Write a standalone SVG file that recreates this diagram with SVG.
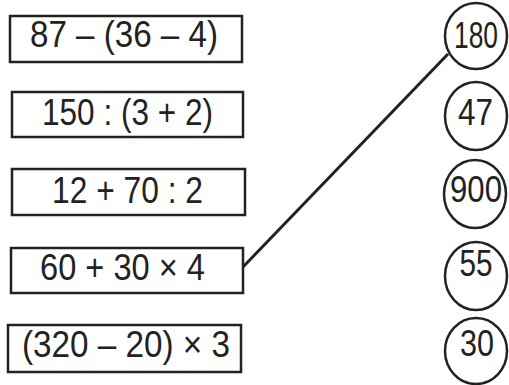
<svg xmlns="http://www.w3.org/2000/svg" width="509" height="385" viewBox="0 0 509 385">
<style>
.box{fill:#fff;stroke:#222;stroke-width:2.5}
.circ{fill:#fff;stroke:#222;stroke-width:2.5}
.t{font-family:"Liberation Sans",Arial,sans-serif;font-size:36px;fill:#222;text-anchor:middle}
.c{font-family:"Liberation Sans",Arial,sans-serif;font-size:36px;fill:#222;text-anchor:middle}
.line{stroke:#222;stroke-width:3;fill:none}
</style>
<rect width="509" height="385" fill="#fff"/>
<g id="connectors">
<line class="line" x1="243" y1="267" x2="448" y2="54"/>
</g>
<g id="e1"><rect class="box" x="10" y="16" width="232" height="46"/><text class="t" x="124" y="47" textLength="188" lengthAdjust="spacingAndGlyphs">87 – (36 – 4)</text></g>
<g id="e2"><rect class="box" x="12" y="92" width="231" height="45"/><text class="t" x="127.5" y="125" textLength="171" lengthAdjust="spacingAndGlyphs">150 : (3 + 2)</text></g>
<g id="e3"><rect class="box" x="12" y="169" width="233" height="46"/><text class="t" x="127.5" y="203" textLength="151" lengthAdjust="spacingAndGlyphs">12 + 70 : 2</text></g>
<g id="e4"><rect class="box" x="11" y="248" width="232" height="45"/><text class="t" x="122.5" y="280" textLength="165" lengthAdjust="spacingAndGlyphs">60 + 30 × 4</text></g>
<g id="e5"><rect class="box" x="8" y="325" width="233" height="47"/><text class="t" x="126" y="357" textLength="208" lengthAdjust="spacingAndGlyphs">(320 – 20) × 3</text></g>
<g id="r1"><ellipse class="circ" cx="476" cy="36" rx="31" ry="33"/><text class="c" x="476" y="48" textLength="44" lengthAdjust="spacingAndGlyphs">180</text></g>
<g id="r2"><ellipse class="circ" cx="476" cy="116" rx="31" ry="34"/><text class="c" x="475.5" y="125" textLength="35" lengthAdjust="spacingAndGlyphs">47</text></g>
<g id="r3"><ellipse class="circ" cx="475" cy="194" rx="31" ry="34"/><text class="c" x="476" y="202" textLength="52" lengthAdjust="spacingAndGlyphs">900</text></g>
<g id="r4"><ellipse class="circ" cx="476" cy="276" rx="31" ry="34"/><text class="c" x="476" y="276" textLength="33" lengthAdjust="spacingAndGlyphs">55</text></g>
<g id="r5"><ellipse class="circ" cx="476" cy="351" rx="31" ry="33"/><text class="c" x="477" y="356" textLength="34" lengthAdjust="spacingAndGlyphs">30</text></g>
</svg>
